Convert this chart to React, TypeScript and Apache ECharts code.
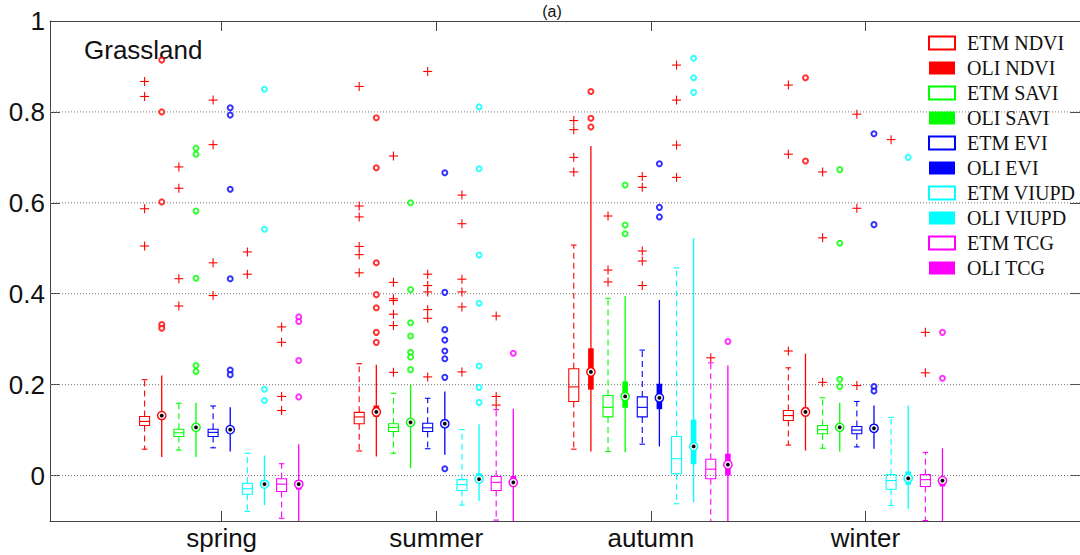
import React, { useEffect, useRef } from "react";
import * as echarts from "echarts";

const seasons = ["spring", "summer", "autumn", "winter"];
const indexNames = ["NDVI", "SAVI", "EVI", "VIUPD", "TCG"];
const indexColors = ["#ff0000", "#00ff00", "#0000ff", "#00ffff", "#ff00ff"];
const yTicks = [0, 0.2, 0.4, 0.6, 0.8, 1];
const gridValues = [0, 0.2, 0.4, 0.6, 0.8];
const xTicks = [1, 2, 3, 4];

// [lower whisker, q1, median, q3, upper whisker] per season
const etmNdvi = [[0.058, 0.110, 0.119, 0.130, 0.211], [0.054, 0.114, 0.129, 0.139, 0.246], [0.058, 0.163, 0.195, 0.235, 0.507], [0.067, 0.121, 0.132, 0.143, 0.237]];
const oliNdvi = [[0.041, 0.124, 0.132, 0.140, 0.220], [0.042, 0.129, 0.140, 0.154, 0.244], [0.053, 0.189, 0.228, 0.280, 0.725], [0.055, 0.130, 0.140, 0.150, 0.268]];
const etmSavi = [[0.056, 0.086, 0.094, 0.102, 0.159], [0.049, 0.097, 0.106, 0.114, 0.181], [0.053, 0.129, 0.150, 0.176, 0.390], [0.060, 0.092, 0.101, 0.110, 0.171]];
const oliSavi = [[0.041, 0.099, 0.106, 0.113, 0.160], [0.016, 0.109, 0.117, 0.125, 0.200], [0.051, 0.149, 0.174, 0.207, 0.395], [0.053, 0.099, 0.106, 0.113, 0.160]];
const etmEvi = [[0.061, 0.086, 0.095, 0.102, 0.153], [0.059, 0.097, 0.105, 0.115, 0.170], [0.069, 0.129, 0.150, 0.173, 0.276], [0.063, 0.092, 0.100, 0.108, 0.163]];
const oliEvi = [[0.053, 0.094, 0.101, 0.108, 0.150], [0.046, 0.106, 0.114, 0.123, 0.185], [0.064, 0.146, 0.171, 0.202, 0.386], [0.059, 0.097, 0.104, 0.111, 0.154]];
const etmViupd = [[-0.079, -0.041, -0.029, -0.017, 0.049], [-0.065, -0.033, -0.020, -0.009, 0.101], [-0.062, 0.004, 0.037, 0.086, 0.457], [-0.066, -0.030, -0.011, 0.002, 0.128]];
const oliViupd = [[-0.065, -0.027, -0.019, -0.011, 0.044], [-0.056, -0.015, -0.008, 0.005, 0.113], [-0.059, 0.025, 0.064, 0.123, 0.522], [-0.073, -0.020, -0.006, 0.009, 0.154]];
const etmTcg = [[-0.094, -0.035, -0.019, -0.007, 0.026], [-0.098, -0.033, -0.015, -0.002, 0.145], [-0.12, -0.007, 0.014, 0.036, 0.248], [-0.099, -0.024, -0.009, 0.002, 0.051]];
const oliTcg = [[-0.12, -0.031, -0.019, -0.010, 0.069], [-0.12, -0.024, -0.015, -0.001, 0.147], [-0.12, 0.000, 0.024, 0.048, 0.242], [-0.12, -0.024, -0.011, -0.004, 0.060]];

// outliers per season
const etmNdviOut = [[0.867, 0.834, 0.587, 0.505], [0.856, 0.593, 0.569, 0.504, 0.486, 0.446], [0.781, 0.761, 0.700, 0.668], [0.859, 0.707, 0.274]];
const etmSaviOut = [[0.679, 0.632, 0.433, 0.373], [0.703, 0.425, 0.389, 0.385, 0.355, 0.330, 0.227], [0.571, 0.452, 0.426], [0.668, 0.523, 0.205]];
const etmEviOut = [[0.826, 0.728, 0.468, 0.396], [0.889, 0.443, 0.418, 0.404, 0.365, 0.346, 0.217], [0.658, 0.634, 0.494, 0.472, 0.418], [0.795, 0.588, 0.198]];
const etmViupdOut = [[0.492, 0.443], [0.617, 0.554, 0.432, 0.404, 0.371, 0.228], [0.903, 0.826, 0.727, 0.656], [0.739]];
const etmTcgOut = [[0.327, 0.293, 0.174, 0.143], [0.351, 0.174, 0.155], [0.259], [0.315, 0.226]];
const oliNdviOut = [[0.914, 0.800, 0.602, 0.332, 0.324], [0.787, 0.677, 0.468, 0.398, 0.369, 0.315, 0.293], [0.845, 0.786, 0.767], [0.875, 0.692]];
const oliSaviOut = [[0.720, 0.707, 0.582, 0.434, 0.242, 0.229], [0.600, 0.409, 0.336, 0.307, 0.271, 0.261, 0.233], [0.639, 0.551, 0.532], [0.673, 0.511, 0.212, 0.196]];
const oliEviOut = [[0.809, 0.793, 0.630, 0.433, 0.232, 0.222], [0.666, 0.403, 0.321, 0.298, 0.274, 0.257, 0.216, 0.015], [0.686, 0.590, 0.569], [0.752, 0.552, 0.196, 0.186]];
const oliViupdOut = [[0.850, 0.542, 0.190, 0.165], [0.811, 0.675, 0.485, 0.379, 0.241, 0.194, 0.161], [0.918, 0.875, 0.843], [0.700]];
const oliTcgOut = [[0.349, 0.339, 0.253, 0.173], [0.269], [0.295], [0.315, 0.214]];

const etmBoxes = [etmNdvi, etmSavi, etmEvi, etmViupd, etmTcg];
const oliBoxes = [oliNdvi, oliSavi, oliEvi, oliViupd, oliTcg];
const etmOutliers = [etmNdviOut, etmSaviOut, etmEviOut, etmViupdOut, etmTcgOut];
const oliOutliers = [oliNdviOut, oliSaviOut, oliEviOut, oliViupdOut, oliTcgOut];

const SLOT_STEP = 0.0798;
const xPos = (season: number, slot: number) => season + 1 + (slot - 4.5) * SLOT_STEP;

function boxRenderer(color: string, oli: boolean) {
  return (params: any, api: any) => {
    const x = api.value(0);
    const c = (v: number) => api.coord([x, v]);
    const cx = c(api.value(3))[0];
    const yLow = c(api.value(1))[1];
    const yQ1 = c(api.value(2))[1];
    const yMed = c(api.value(3))[1];
    const yQ3 = c(api.value(4))[1];
    const yHigh = c(api.value(5))[1];
    const children: any[] = [];
    if (!oli) {
      const dash = { stroke: color, lineWidth: 1.1, lineDash: [6, 4], fill: null };
      const solid = { stroke: color, lineWidth: 1.1, fill: null };
      children.push({ type: "line", shape: { x1: cx, y1: yQ3, x2: cx, y2: yHigh }, style: dash });
      children.push({ type: "line", shape: { x1: cx, y1: yQ1, x2: cx, y2: yLow }, style: dash });
      children.push({ type: "line", shape: { x1: cx - 2.8, y1: yHigh, x2: cx + 2.8, y2: yHigh }, style: solid });
      children.push({ type: "line", shape: { x1: cx - 2.8, y1: yLow, x2: cx + 2.8, y2: yLow }, style: solid });
      children.push({ type: "rect", shape: { x: cx - 5, y: yQ3, width: 10, height: yQ1 - yQ3 }, style: { stroke: color, lineWidth: 1.1, fill: "none" } });
      children.push({ type: "line", shape: { x1: cx - 5, y1: yMed, x2: cx + 5, y2: yMed }, style: solid });
    } else {
      children.push({ type: "line", shape: { x1: cx, y1: yLow, x2: cx, y2: yHigh }, style: { stroke: color, lineWidth: 1.3 } });
      children.push({ type: "rect", shape: { x: cx - 2.8, y: yQ3, width: 5.6, height: yQ1 - yQ3 }, style: { fill: color } });
      children.push({ type: "circle", shape: { cx, cy: yMed, r: 4.8 }, style: { fill: color } });
      children.push({ type: "circle", shape: { cx, cy: yMed, r: 3.5 }, style: { fill: "#eeeeee" } });
      children.push({ type: "circle", shape: { cx, cy: yMed, r: 1.9 }, style: { fill: "#000000" } });
    }
    return { type: "group", children };
  };
}

function plusRenderer(params: any, api: any) {
  const p = api.coord([api.value(0), api.value(1)]);
  const st = { stroke: "#ff0000", lineWidth: 1.1 };
  return {
    type: "group",
    children: [
      { type: "line", shape: { x1: p[0] - 4.5, y1: p[1], x2: p[0] + 4.5, y2: p[1] }, style: st },
      { type: "line", shape: { x1: p[0], y1: p[1] - 4.5, x2: p[0], y2: p[1] + 4.5 }, style: st },
    ],
  };
}

function gridRenderer(params: any, api: any) {
  const y = api.coord([1, api.value(0)])[1];
  const cs = params.coordSys;
  return {
    type: "line",
    shape: { x1: cs.x, y1: y, x2: cs.x + cs.width, y2: y },
    style: { stroke: "#777777", lineWidth: 1, lineDash: [1, 2] },
  };
}

export default function App() {
  const ref = useRef<HTMLDivElement>(null);
  useEffect(() => {
    if (!ref.current) return;
    const chart = echarts.init(ref.current, undefined, { renderer: "svg" });
    const series: any[] = [];
    series.push({
      type: "custom",
      name: "grid",
      silent: true,
      z: 1,
      data: gridValues.map((v) => [v]),
      encode: { y: 0 },
      renderItem: gridRenderer,
    });
    const legendData: any[] = [];
    indexNames.forEach((nm, i) => {
      const color = indexColors[i];
      [false, true].forEach((oli) => {
        const name = (oli ? "OLI " : "ETM ") + nm;
        const slot = i * 2 + (oli ? 1 : 0);
        const boxes = oli ? oliBoxes[i] : etmBoxes[i];
        series.push({
          type: "custom",
          name,
          z: 3,
          clip: true,
          itemStyle: { color },
          data: boxes.map((b, s) => [xPos(s, slot), ...b]),
          encode: { x: 0, y: [1, 2, 3, 4, 5] },
          renderItem: boxRenderer(color, oli),
        });
        legendData.push({
          name,
          icon: "rect",
          itemStyle: oli ? { color, borderWidth: 0 } : { color: "#ffffff", borderColor: color, borderWidth: 2 },
        });
        const outs = oli ? oliOutliers[i] : etmOutliers[i];
        const pts: number[][] = [];
        outs.forEach((arr, s) => arr.forEach((v) => pts.push([xPos(s, slot), v])));
        if (oli) {
          series.push({
            type: "scatter",
            name: name + " outliers",
            z: 4,
            symbol: "emptyCircle",
            symbolSize: 5,
            itemStyle: { color, borderWidth: 1 },
            data: pts,
          });
        } else {
          series.push({
            type: "custom",
            name: name + " outliers",
            z: 4,
            data: pts,
            encode: { x: 0, y: 1 },
            renderItem: plusRenderer,
          });
        }
      });
    });

    const axisLine = { show: true, onZero: false, lineStyle: { color: "#444444", width: 1 } };
    const labelFont = { fontFamily: "Liberation Sans", fontSize: 26, color: "#111111" };
    chart.setOption({
      animation: false,
      grid: { left: 50, top: 21, width: 1031, height: 500, containLabel: false },
      xAxis: [
        {
          type: "value", min: 0.2, max: 5, position: "bottom",
          axisLine,
          axisTick: { show: true, inside: true, length: 10, customValues: xTicks, lineStyle: { color: "#444444" } },
          axisLabel: { ...labelFont, margin: 4, customValues: xTicks, formatter: (v: number) => seasons[Math.round(v) - 1] },
          splitLine: { show: false },
        },
        {
          type: "value", min: 0.2, max: 5, position: "top",
          axisLine,
          axisTick: { show: true, inside: true, length: 10, customValues: xTicks, lineStyle: { color: "#444444" } },
          axisLabel: { show: false },
          splitLine: { show: false },
        },
      ],
      yAxis: [
        {
          type: "value", min: -0.1, max: 1, position: "left",
          axisLine,
          axisTick: { show: true, inside: true, length: 10, customValues: yTicks, lineStyle: { color: "#444444" } },
          axisLabel: { ...labelFont, margin: 5, customValues: yTicks, showMaxLabel: true, formatter: (v: number) => String(Math.round(v * 10) / 10) },
          splitLine: { show: false },
        },
        {
          type: "value", min: -0.1, max: 1, position: "right",
          axisLine,
          axisTick: { show: true, inside: true, length: 10, customValues: yTicks, lineStyle: { color: "#444444" } },
          axisLabel: { show: false },
          splitLine: { show: false },
        },
      ],
      legend: {
        orient: "vertical",
        left: 923,
        top: 28,
        itemWidth: 26,
        itemHeight: 13,
        itemGap: 5,
        selectedMode: false,
        textStyle: { fontFamily: "Liberation Serif", fontSize: 20, lineHeight: 19, color: "#111111", padding: [0, 0, 0, 7] },
        data: legendData,
      },
      graphic: [
        { type: "text", left: 84, top: 37, style: { text: "Grassland", fontFamily: "Liberation Sans", fontSize: 26, fill: "#111111" } },
        { type: "text", x: 552, y: 19, style: { text: "(a)", fontFamily: "Liberation Sans", fontSize: 16, fill: "#111111", align: "center", verticalAlign: "bottom" } },
      ],
      series,
    });
    return () => chart.dispose();
  }, []);
  return <div ref={ref} style={{ position: "absolute", left: 0, top: 0, width: 1080, height: 555 }} />;
}
